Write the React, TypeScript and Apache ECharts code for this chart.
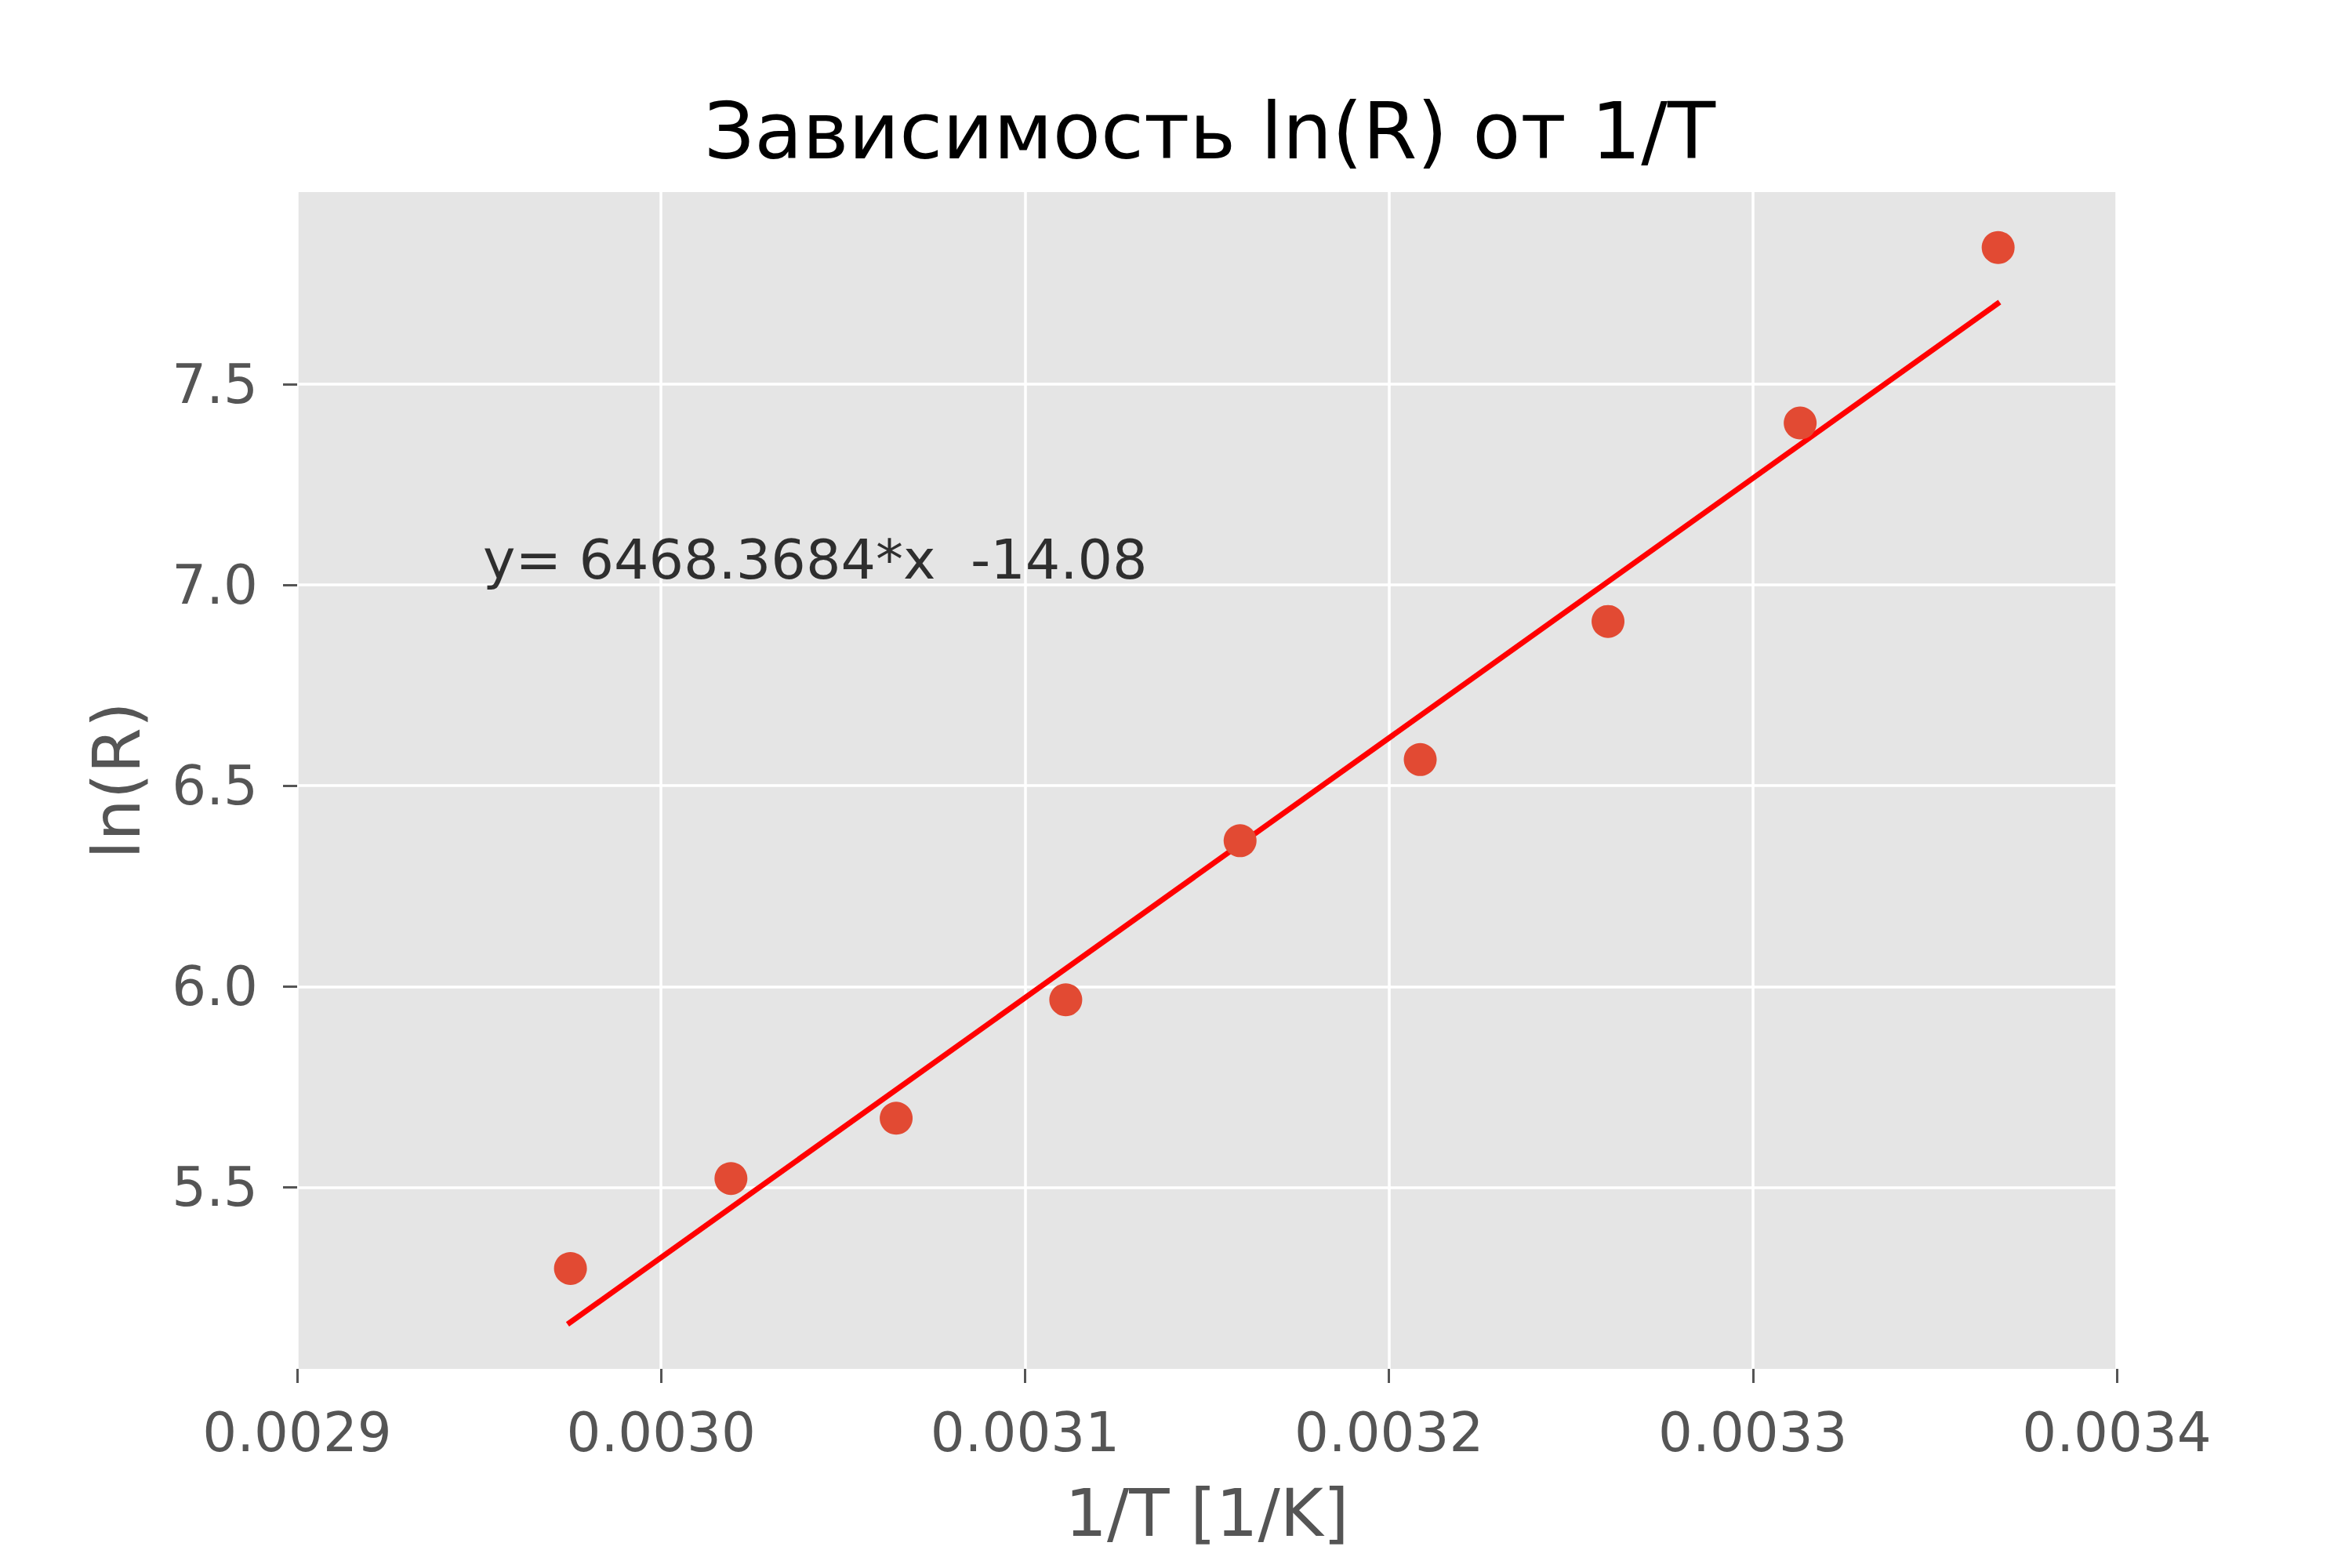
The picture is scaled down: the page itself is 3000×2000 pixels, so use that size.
import React, { useEffect, useRef } from "react";
import * as echarts from "echarts";

const xPoints = [0.0029751, 0.0030192, 0.0030646, 0.0031112, 0.0031591, 0.0032086, 0.0032602, 0.003313, 0.0033674];
const yPoints = [5.298, 5.522, 5.672, 5.967, 6.363, 6.565, 6.909, 7.403, 7.84];
const fitX = [0.0029743, 0.0033678];
const fitY = [5.159, 7.704];
const xTicks = [0.0029, 0.003, 0.0031, 0.0032, 0.0033, 0.0034];
const yTicks = [5.5, 6.0, 6.5, 7.0, 7.5];
const annotation = { x: 0.00295, y: 7.0, text: "y= 6468.3684*x  -14.08" };

export default function App() {
  const ref = useRef<HTMLDivElement>(null);
  useEffect(() => {
    const chart = echarts.init(ref.current!, null, { renderer: "svg" });
    const font = "DejaVu Sans";
    chart.setOption({
      animation: false,
      backgroundColor: "#fff",
      title: {
        text: "Зависимость ln(R) от 1/T",
        left: 1538, top: 112, textAlign: "center",
        textStyle: { fontFamily: font, fontSize: 100, fontWeight: "normal", color: "#000" },
      },
      grid: { left: 379, right: 3000 - 2700, top: 245, bottom: 2000 - 1746, backgroundColor: "#E5E5E5", show: true, borderWidth: 0 },
      xAxis: {
        type: "value", min: 0.0029, max: 0.0034,
        name: "1/T [1/K]", nameLocation: "middle", nameGap: 142,
        nameTextStyle: { fontFamily: font, fontSize: 84, color: "#555" },
        axisLine: { show: false },
        axisTick: { show: true, length: 18, lineStyle: { color: "#555", width: 3 }, customValues: xTicks },
        axisLabel: { customValues: xTicks, formatter: (v: number) => v.toFixed(4), fontFamily: font, fontSize: 69, color: "#555", margin: 46 },
        splitLine: { show: true, lineStyle: { color: "#fff", width: 3.5 } },
      },
      yAxis: {
        type: "value", min: 5.048, max: 7.978,
        name: "ln(R)", nameLocation: "middle", nameGap: 188, nameRotate: 90,
        nameTextStyle: { fontFamily: font, fontSize: 84, color: "#555" },
        axisLine: { show: false },
        axisTick: { show: true, length: 18, lineStyle: { color: "#555", width: 3 }, customValues: yTicks },
        axisLabel: { customValues: yTicks, formatter: (v: number) => v.toFixed(1), fontFamily: font, fontSize: 69, color: "#555", margin: 50 },
        splitLine: { show: true, lineStyle: { color: "#fff", width: 3.5 } },
      },
      series: [
        {
          type: "line", data: fitX.map((x, i) => [x, fitY[i]]), symbol: "none",
          lineStyle: { color: "#ff0000", width: 7 }, z: 2,
        },
        {
          type: "scatter", data: xPoints.map((x, i) => [x, yPoints[i]]), symbolSize: 42,
          itemStyle: { color: "#E24A33", opacity: 1 }, z: 3,
        },
        {
          type: "scatter", data: [[annotation.x, annotation.y]], symbolSize: 0,
          label: { show: true, position: "insideBottomLeft", formatter: annotation.text, align: "left", verticalAlign: "bottom", offset: [0, 8],
            fontFamily: font, fontSize: 70, color: "#000", textBorderWidth: 0 },
          silent: true,
        },
      ],
    });
    return () => chart.dispose();
  }, []);
  return <div ref={ref} style={{ position: "absolute", left: 0, top: 0, width: 3000, height: 2000 }} />;
}
